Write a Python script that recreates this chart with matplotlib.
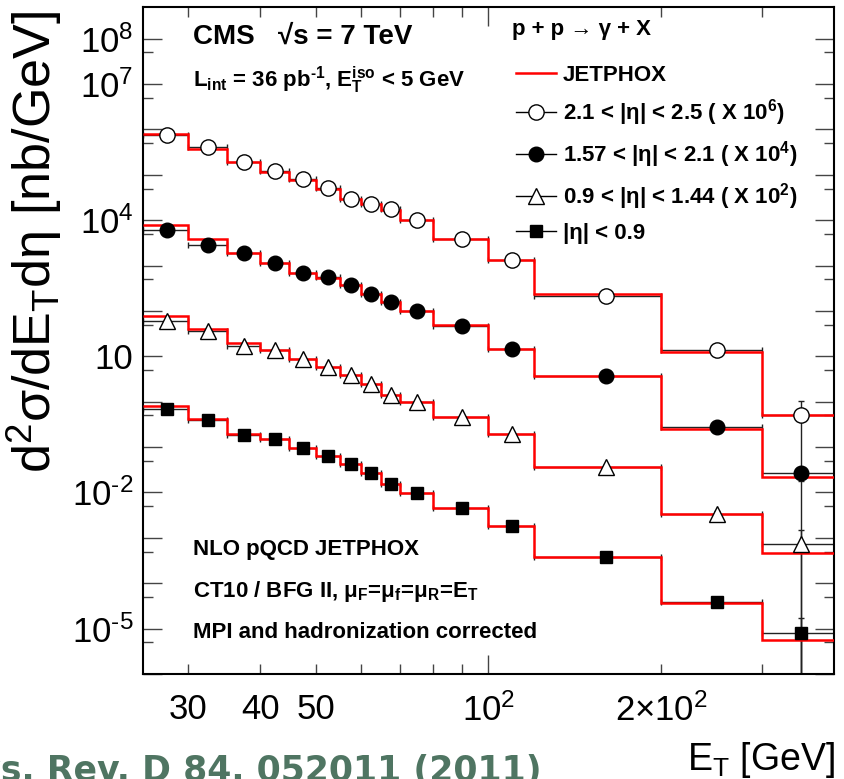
import numpy as np
import matplotlib.pyplot as plt
from matplotlib.lines import Line2D
from matplotlib.ticker import FixedLocator, FuncFormatter

plt.rcParams['font.family'] = ['Liberation Sans', 'DejaVu Sans']
plt.rcParams['mathtext.default'] = 'regular'

# E_T binning [GeV]
bin_edges = [25, 30, 35, 40, 45, 50, 55, 60, 65, 70, 80, 100, 120, 200, 300, 400]

# measured isolated-photon cross sections [nb/GeV], unscaled
data_fwd = [0.745, 0.411, 0.192, 0.119, 0.0796, 0.0521, 0.0299, 0.0231, 0.0173,
            0.0103, 0.00377, 0.00134, 2.19e-4, 1.38e-5, 5.16e-7]
data_mid = [0.617, 0.288, 0.188, 0.113, 0.0679, 0.0555, 0.0377, 0.0238, 0.0156,
            0.0102, 0.00476, 0.00146, 3.75e-4, 2.71e-5, 2.75e-6]
data_trans = [0.614, 0.369, 0.172, 0.138, 0.0867, 0.0593, 0.0394, 0.0249, 0.0143,
              0.00966, 0.00450, 0.00194, 3.67e-4, 3.32e-5, 7.23e-6]
data_cen = [0.690, 0.401, 0.187, 0.149, 0.0942, 0.0643, 0.0428, 0.0271, 0.0152,
            0.00995, 0.00465, 0.00183, 3.85e-4, 3.91e-5, 7.83e-6]

# relative uncertainties on the measurements
err_fwd = [0.05, 0.05, 0.05, 0.05, 0.05, 0.05, 0.06, 0.06, 0.06, 0.06, 0.07, 0.08, 0.10, 0.25, 1.03]
err_mid = [0.05, 0.05, 0.05, 0.05, 0.05, 0.05, 0.05, 0.05, 0.06, 0.06, 0.06, 0.07, 0.08, 0.15, 0.35]
err_trans = [0.05, 0.05, 0.05, 0.05, 0.05, 0.05, 0.05, 0.05, 0.05, 0.06, 0.06, 0.07, 0.08, 0.15, 1.10]
err_cen = [0.05, 0.05, 0.05, 0.05, 0.05, 0.05, 0.05, 0.05, 0.05, 0.05, 0.06, 0.06, 0.07, 0.12, 1.20]

# JETPHOX NLO predictions [nb/GeV]
nlo_fwd = [0.78, 0.38, 0.19, 0.115, 0.078, 0.050, 0.030, 0.0226, 0.0170,
           0.0102, 0.0038, 0.00133, 2.38e-4, 1.27e-5, 5.2e-7]
nlo_mid = [0.77, 0.39, 0.19, 0.112, 0.069, 0.054, 0.037, 0.0240, 0.0155,
           0.0101, 0.0048, 0.00145, 3.7e-4, 2.49e-5, 2.21e-6]
nlo_trans = [0.79, 0.40, 0.20, 0.138, 0.087, 0.059, 0.039, 0.025, 0.0143,
             0.0097, 0.0045, 0.00194, 3.6e-4, 3.3e-5, 4.65e-6]
nlo_cen = [0.80, 0.41, 0.19, 0.148, 0.094, 0.064, 0.043, 0.027, 0.0152,
           0.0099, 0.0046, 0.00183, 3.8e-4, 3.72e-5, 5.48e-6]

labels = [r"2.1 < |η| < 2.5 ( X 10$^{6}$)", r"1.57 < |η| < 2.1 ( X 10$^{4}$)",
          r"0.9 < |η| < 1.44 ( X 10$^{2}$)", r"|η| < 0.9"]
scales = [1e6, 1e4, 1e2, 1]

HY = "\u2010"  # plain hyphen for exponents, as in the ROOT labels

edges = np.array(bin_edges, dtype=float)
centers = 0.5 * (edges[:-1] + edges[1:])
half_w = 0.5 * np.diff(edges)

fig = plt.figure(figsize=(8.45, 7.79), dpi=100)
ax = fig.add_axes([143 / 845, 105 / 779, 691 / 845, 667 / 779])
ax.set_xscale('log')
ax.set_yscale('log')
ax.set_xlim(25, 400)
ax.set_ylim(1e-6, 5e8)

styles = [dict(marker='o', ms=11, mfc='white'),
          dict(marker='o', ms=10.5, mfc='black'),
          dict(marker='^', ms=11, mfc='white'),
          dict(marker='s', ms=9, mfc='black')]

handles = [Line2D([], [], color='red', lw=1.8)]
series = [(data_fwd, err_fwd, nlo_fwd), (data_mid, err_mid, nlo_mid),
          (data_trans, err_trans, nlo_trans), (data_cen, err_cen, nlo_cen)]
for (vals, rel, nlo), scale, st in zip(series, scales, styles):
    y = np.array(vals) * scale
    yerr = np.array(rel) * y
    ax.errorbar(centers, y, xerr=half_w, yerr=yerr, fmt='none', ecolor='#222222',
                elinewidth=1.0, capsize=2.5, capthick=1.0, zorder=2)
    ax.stairs(np.array(nlo) * scale, edges, baseline=None, color='red', lw=1.8, zorder=3)
    ax.plot(centers, y, ls='none', mec='black', mew=1.0, zorder=4, **st)
    handles.append(Line2D([], [], color='black', lw=1.0, mec='black', mew=1.0, **st))

# y axis: every decade, labels only on a few of them
y_labels = {8: r"$10^{8}$", 7: r"$10^{7}$", 4: r"$10^{4}$", 1: "10",
            -2: r"$10^{%s2}$" % HY, -5: r"$10^{%s5}$" % HY}
ax.yaxis.set_major_locator(FixedLocator([10.0 ** k for k in range(-6, 9)]))
ax.yaxis.set_minor_locator(FixedLocator([5 * 10.0 ** k for k in range(-7, 8)]))
ax.yaxis.set_major_formatter(FuncFormatter(
    lambda v, p: y_labels.get(int(round(np.log10(v))), "")))
ax.yaxis.set_minor_formatter(FuncFormatter(lambda v, p: ""))

# x axis
x_minor_labels = {30: "30", 40: "40", 50: "50", 200: r"$2{\times}10^{2}$"}
ax.xaxis.set_major_locator(FixedLocator([100]))
ax.xaxis.set_major_formatter(FuncFormatter(lambda v, p: r"$10^{2}$"))
ax.xaxis.set_minor_locator(FixedLocator([30, 40, 50, 60, 70, 80, 90, 200, 300]))
ax.xaxis.set_minor_formatter(FuncFormatter(
    lambda v, p: x_minor_labels.get(int(round(v)), "")))

ax.tick_params(which='both', direction='in', top=True, right=True,
               color='#444444', width=1.0, labelsize=25)
ax.tick_params(which='major', length=14)
ax.tick_params(which='minor', length=7)
ax.tick_params(axis='x', which='both', pad=14)
ax.tick_params(axis='y', which='both', pad=7)
for s in ax.spines.values():
    s.set_linewidth(1.5)

fig.text(34 / 845, 1 - 242 / 779, r"d$^{2}$σ/dE$_{T}$dη [nb/GeV]", rotation=90,
         ha='center', va='center', fontsize=37.5)
fig.text(835 / 845, 1 - 760 / 779, r"E$_{T}$ [GeV]", ha='right', va='center', fontsize=27)

fig.text(193 / 845, 1 - 37 / 779, "CMS   √s = 7 TeV", fontsize=20,
         weight='bold', va='center')
fig.text(193 / 845, 1 - 80 / 779,
         r"L$_{int}$ = 36 pb$^{%s1}$, E$_{T}^{iso}$ < 5 GeV" % HY,
         fontsize=16, weight='bold', va='center')
for ypix, txt in [(550, "NLO pQCD JETPHOX"),
                  (592, r"CT10 / BFG II, μ$_{F}$=μ$_{f}$=μ$_{R}$=E$_{T}$"),
                  (632, "MPI and hadronization corrected")]:
    fig.text(193 / 845, 1 - ypix / 779, txt, fontsize=16, weight='bold', va='center')

# legend: process title above, entries below
fig.text(512 / 845, 1 - 30 / 779, "p + p → γ + X", fontsize=16, weight='bold',
         va='center')
leg = ax.legend(handles, ["JETPHOX"] + labels,
                loc='upper left', bbox_to_anchor=(505 / 845, 1 - 54 / 779),
                bbox_transform=fig.transFigure, frameon=False, borderpad=0,
                prop=dict(size=16, weight='bold'),
                handlelength=1.8, handletextpad=0.3, labelspacing=0.5)

fig.text(-72 / 845, 1 - 781 / 779, "Phys. Rev. D 84, 052011 (2011)", fontsize=25,
         family='DejaVu Sans', color='#4f7562', weight='bold', va='baseline')

fig.savefig("out.png", dpi=100)
